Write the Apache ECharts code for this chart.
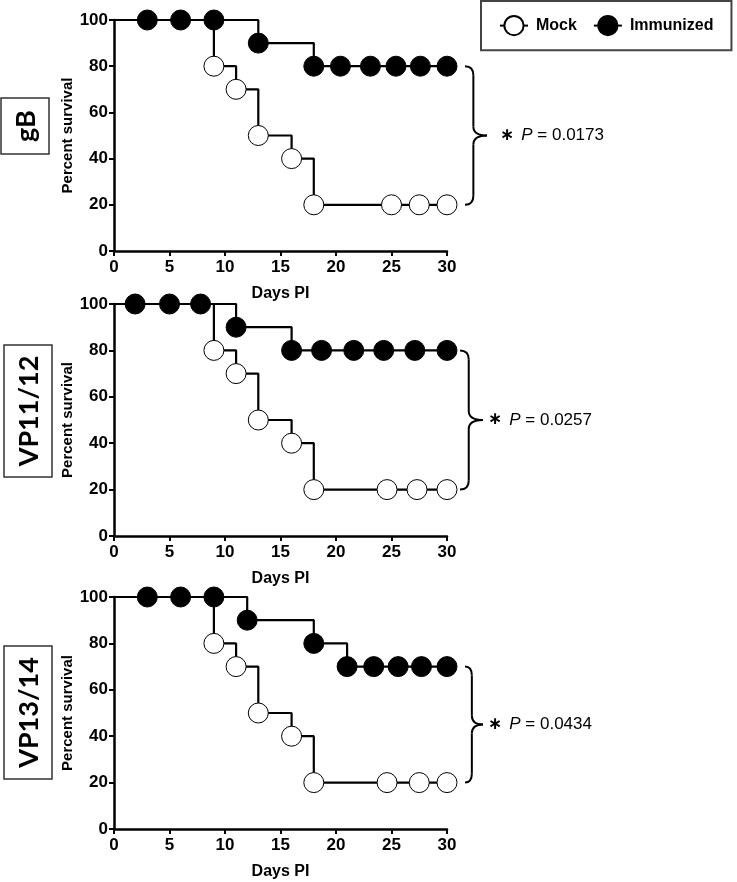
<!DOCTYPE html>
<html>
<head>
<meta charset="utf-8">
<script src="https://cdn.jsdelivr.net/npm/echarts@6/dist/echarts.min.js"></script>
<style>
  html, body { margin: 0; padding: 0; background: #fff; }
  #chart { width: 737px; height: 882px; }
</style>
</head>
<body>
<div id="chart"></div>
<script>
// --- values: day post infection vs percent survival ---
// first point of each curve is the start of the step line (no marker)
const panelNames = ['gB', 'VP11/12', 'VP13/14'];
const pValues    = ['0.0173', '0.0257', '0.0434'];
const xTicks     = [0, 5, 10, 15, 20, 25, 30];
const yTicks     = [0, 20, 40, 60, 80, 100];

const gbMockDays   = [0, 9, 11, 13, 16, 18, 25, 27.5, 30];
const gbMockSurv   = [100, 80, 70, 50, 40, 20, 20, 20, 20];
const gbImmDays    = [0, 3, 6, 9, 13, 18, 20.4, 23.1, 25.4, 27.6, 30];
const gbImmSurv    = [100, 100, 100, 100, 90, 80, 80, 80, 80, 80, 80];

const vp1112MockDays = [0, 9, 11, 13, 16, 18, 24.6, 27.3, 30];
const vp1112MockSurv = [100, 80, 70, 50, 40, 20, 20, 20, 20];
const vp1112ImmDays  = [0, 1.9, 5, 7.8, 11, 16, 18.7, 21.6, 24.3, 27.1, 30];
const vp1112ImmSurv  = [100, 100, 100, 100, 90, 80, 80, 80, 80, 80, 80];

const vp1314MockDays = [0, 9, 11, 13, 16, 18, 24.6, 27.5, 30];
const vp1314MockSurv = [100, 80, 70, 50, 40, 20, 20, 20, 20];
const vp1314ImmDays  = [0, 3, 6, 9, 12, 18, 21, 23.4, 25.6, 27.7, 30];
const vp1314ImmSurv  = [100, 100, 100, 100, 90, 80, 70, 70, 70, 70, 70];

const mockCurves = [[gbMockDays, gbMockSurv], [vp1112MockDays, vp1112MockSurv], [vp1314MockDays, vp1314MockSurv]];
const immCurves  = [[gbImmDays, gbImmSurv], [vp1112ImmDays, vp1112ImmSurv], [vp1314ImmDays, vp1314ImmSurv]];

// --- layout ---
const FONT = 'Liberation Sans, Arial, sans-serif';
const grids = [
  { left: 114, width: 333, top: 20,  height: 231 },
  { left: 114, width: 333, top: 304, height: 232 },
  { left: 114, width: 333, top: 597, height: 232 },
];
const sideBoxes = [
  { x: 1, y: 98,  w: 48, h: 56 },
  { x: 4, y: 345, w: 48, h: 132 },
  { x: 4, y: 646, w: 48, h: 133 },
];
const braceLayout = [   // offsets from the right end of the x axis
  { end: 18, tip: 40, text: 53 },
  { end: 13, tip: 36, text: 41 },
  { end: 18, tip: 36, text: 41 },
];

const chart = echarts.init(document.getElementById('chart'), null, { renderer: 'canvas' });

function curve(name, pts, gi, filled) {
  const [days, surv] = pts;
  return {
    type: 'line',
    name,
    xAxisIndex: gi,
    yAxisIndex: gi,
    data: days.map((d, i) => [d, surv[i]]),
    step: 'end',
    symbol: 'circle',
    symbolSize: (v, p) => (p.dataIndex === 0 ? 0 : 20),
    lineStyle: { color: '#000', width: 2.2 },
    itemStyle: { color: filled ? '#000' : '#fff', borderColor: '#000', borderWidth: 1 },
    z: filled ? 4 : 3,
    animation: false,
    silent: true,
    emphasis: { disabled: true },
  };
}

const series = [];
grids.forEach((g, i) => {
  series.push(curve('Mock', mockCurves[i], i, false));
  series.push(curve('Immunized', immCurves[i], i, true));
});

const boldLabel = { color: '#000', fontFamily: FONT, fontWeight: 'bold', fontSize: 16 };

chart.setOption({
  backgroundColor: '#fff',
  animation: false,
  grid: grids,
  legend: {
    data: ['Mock', 'Immunized'],
    orient: 'horizontal',
    left: 481,
    top: 1,
    padding: [14, 18, 14, 18],
    itemWidth: 28,
    itemHeight: 24,
    itemGap: 16,
    borderColor: '#444',
    borderWidth: 2,
    backgroundColor: '#fff',
    selectedMode: false,
    textStyle: { ...boldLabel, padding: [0, 0, 0, 3] },
  },
  xAxis: grids.map((g, i) => ({
    gridIndex: i,
    type: 'value',
    min: xTicks[0],
    max: xTicks[xTicks.length - 1],
    interval: xTicks[1] - xTicks[0],
    name: 'Days PI',
    nameLocation: 'middle',
    nameGap: 35,
    nameTextStyle: { ...boldLabel },
    axisLine: { show: true, onZero: false, lineStyle: { color: '#000', width: 2.5 } },
    axisTick: { show: true, length: 5, lineStyle: { color: '#000', width: 2 } },
    axisLabel: { ...boldLabel, fontSize: 17, margin: 8 },
    splitLine: { show: false },
  })),
  yAxis: grids.map((g, i) => ({
    gridIndex: i,
    type: 'value',
    min: yTicks[0],
    max: yTicks[yTicks.length - 1],
    interval: yTicks[1] - yTicks[0],
    name: 'Percent survival',
    nameLocation: 'middle',
    nameRotate: 90,
    nameGap: 34,
    nameTextStyle: { ...boldLabel, fontSize: 15 },
    axisLine: { show: true, onZero: false, lineStyle: { color: '#000', width: 2.5 } },
    axisTick: { show: true, length: 5, lineStyle: { color: '#000', width: 2 } },
    axisLabel: { ...boldLabel, fontSize: 17, margin: 6 },
    splitLine: { show: false },
  })),
  series,
});

// --- annotations: side labels, braces and P values ---
const graphic = [];

sideBoxes.forEach((b, i) => {
  graphic.push({
    type: 'rect',
    shape: { x: b.x, y: b.y, width: b.w, height: b.h },
    style: { fill: '#fff', stroke: '#333', lineWidth: 1.5 },
    silent: true,
  });
  graphic.push({
    type: 'text',
    x: b.x + b.w / 2 + 1,
    y: b.y + b.h / 2,
    rotation: Math.PI / 2,
    style: {
      text: panelNames[i],
      fill: '#000',
      font: 'bold 27px Lato, "Open Sans", sans-serif',
      textAlign: 'center',
      textVerticalAlign: 'middle',
    },
    silent: true,
  });
});

function quad(x1, y1, cx, cy, x2, y2) {
  return {
    type: 'bezierCurve',
    shape: { x1, y1, cpx1: cx, cpy1: cy, x2, y2 },
    style: { stroke: '#000', lineWidth: 2, fill: null },
    silent: true,
  };
}
function seg(x1, y1, x2, y2) {
  return {
    type: 'line',
    shape: { x1, y1, x2, y2 },
    style: { stroke: '#000', lineWidth: 2 },
    silent: true,
  };
}

grids.forEach((g, i) => {
  const [days, surv] = immCurves[i];
  const [mdays, msurv] = mockCurves[i];
  const top = chart.convertToPixel({ gridIndex: i }, [days[days.length - 1], surv[surv.length - 1]]);
  const bot = chart.convertToPixel({ gridIndex: i }, [mdays[mdays.length - 1], msurv[msurv.length - 1]]);
  const xEnd = top[0];
  const L = braceLayout[i];
  const x0 = xEnd + L.end;
  const xt = xEnd + L.tip;
  const xm = x0 + (xt - x0) * 0.38;
  const yT = top[1], yB = bot[1], yM = (yT + yB) / 2;
  const r = 9;
  graphic.push(quad(x0, yT, xm, yT, xm, yT + r));
  graphic.push(seg(xm, yT + r, xm, yM - r));
  graphic.push(quad(xm, yM - r, xm, yM, xt, yM));
  graphic.push(quad(xt, yM, xm, yM, xm, yM + r));
  graphic.push(seg(xm, yM + r, xm, yB - r));
  graphic.push(quad(xm, yB - r, xm, yB, x0, yB));

  graphic.push({
    type: 'text',
    x: xEnd + L.text,
    y: yM,
    style: {
      text: '{s|\u2217}{p|P} = ' + pValues[i],
      fill: '#000',
      fontFamily: FONT,
      fontSize: 17,
      textVerticalAlign: 'middle',
      rich: {
        s: { fontFamily: 'DejaVu Sans', fontWeight: 'bold', fontSize: 17, fill: '#000', padding: [0, 7, 0, 0] },
        p: { fontFamily: FONT, fontStyle: 'italic', fontSize: 17, fill: '#000' },
      },
    },
    silent: true,
  });
});

chart.setOption({ graphic });
</script>
</body>
</html>
